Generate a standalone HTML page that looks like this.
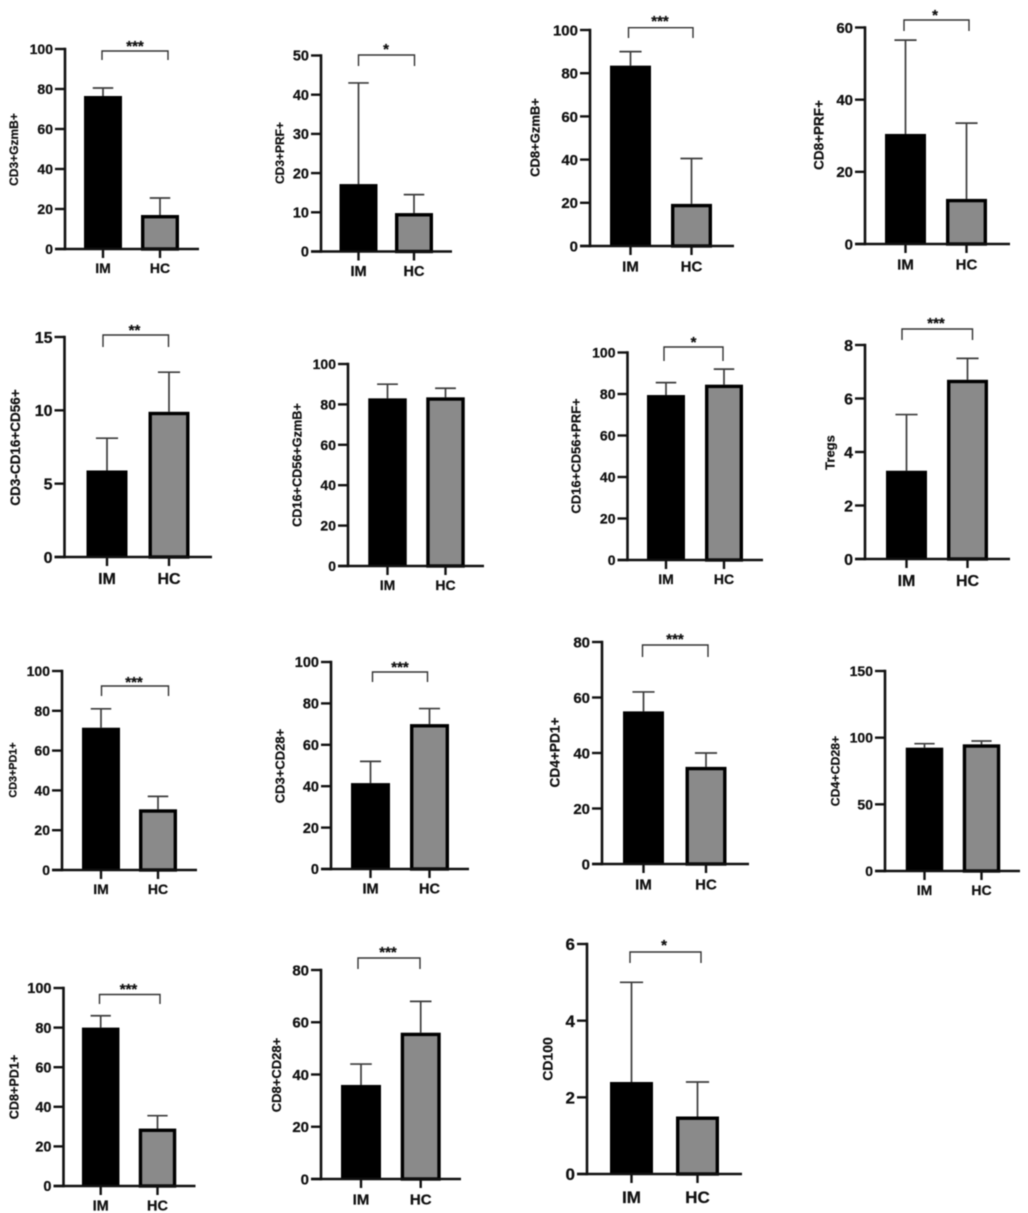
<!DOCTYPE html>
<html lang="en">
<head>
<meta charset="utf-8">
<title>Immune cell subset bar charts: IM vs HC</title>
<style>
html,body{margin:0;padding:0;background:#fff;width:1028px;height:1213px;overflow:hidden}
svg{display:block;filter:blur(0.4px)}
text{font-family:"Liberation Sans",Arial,sans-serif;font-weight:bold;fill:#111;stroke:#111;stroke-width:0.25px}
</style>
</head>
<body>
<svg id="figure" xmlns="http://www.w3.org/2000/svg" width="1028" height="1213" viewBox="0 0 1028 1213"></svg>
<script>
// ---- Data ----
const categories = ["IM", "HC"];
const yTitles = ["CD3+GzmB+","CD3+PRF+","CD8+GzmB+","CD8+PRF+","CD3-CD16+CD56+","CD16+CD56+GzmB+","CD16+CD56+PRF+","Tregs","CD3+PD1+","CD3+CD28+","CD4+PD1+","CD4+CD28+","CD8+PD1+","CD8+CD28+","CD100"];
const imMeans = [76.5,17.2,83.5,30.5,5.9,83,79.5,3.3,71.5,41.5,55,92.5,80,36,2.4];
const hcMeans = [17,9.8,19.5,12.5,9.9,83.5,84.5,6.7,30.5,70,35,95,29,56,1.5];
const imErrorTops = [80.5,43,90,56.5,8.1,90,85.5,5.4,81,52,62,95.5,86,44,5];
const hcErrorTops = [25.5,14.5,40.5,33.5,12.6,88,92,7.5,37,77.5,40,97.5,35.5,68,2.4];
const significance = ["***","*","***","*","**","","*","***","***","***","***","","***","***","*"];
const tickLabels = [
  [0,20,40,60,80,100],[0,10,20,30,40,50],[0,20,40,60,80,100],[0,20,40,60],
  [0,5,10,15],[0,20,40,60,80,100],[0,20,40,60,80,100],[0,2,4,6,8],
  [0,20,40,60,80,100],[0,20,40,60,80,100],[0,20,40,60,80],[0,50,100,150],
  [0,20,40,60,80,100],[0,20,40,60,80],[0,2,4,6]
];

// ---- Panel layout (pixels) ----
const layout = [
 {ax:65,   base:249,  top:49,   right:199, c:[103,160],     bw:38,  br:[102,168,51,60],        star:[135,43],    yt:[15,149.5,12],   fs:14},
 {ax:321,  base:251.5,top:55.5, right:452, c:[358.5,414],   bw:38,  br:[358.5,414.5,55,66],    star:[386,46],    yt:[281,153,12],    fs:14.5},
 {ax:590,  base:246,  top:30,   right:734, c:[630.5,691.5], bw:41,  br:[628.5,693,27.7,38],    star:[660,18],    yt:[536,137.5,13],  fs:15},
 {ax:865,  base:244,  top:27.5, right:1010,c:[905.5,966.5], bw:41,  br:[904,969,20,31],        star:[935,12],    yt:[820,135,13.5],  fs:15},
 {ax:64.5, base:557,  top:337,  right:212, c:[107,169],     bw:41,  br:[103,168.5,335,347],    star:[134.5,327], yt:[16.5,447.5,13.5],fs:16},
 {ax:348,  base:566,  top:364,  right:484, c:[387.5,445.5], bw:38.5,br:null,                   star:null,        yt:[298,465,12.7],  fs:14},
 {ax:627.5,base:560,  top:352.5,right:763, c:[666,724],     bw:38,  br:[664,723,347,361],      star:[693.5,339], yt:[577,456,13],    fs:14},
 {ax:865,  base:559,  top:345,  right:1010,c:[906.5,967.5], bw:41,  br:[902,972.5,329,340],    star:[936,320],   yt:[831,452.5,13],  fs:16},
 {ax:62,   base:870,  top:671,  right:197, c:[101,158],     bw:38,  br:[101.5,168.5,686,696],  star:[134,679],   yt:[13.5,770,10.8], fs:14},
 {ax:331,  base:869,  top:662,  right:469, c:[370.5,429.5], bw:39,  br:[372.5,427.5,672,682],  star:[400,664],   yt:[281,766,13],    fs:14.5},
 {ax:602,  base:864,  top:642,  right:749, c:[643.5,706],   bw:41,  br:[642.5,708,645,657],    star:[675,636],   yt:[556,752.5,13.7],fs:15},
 {ax:885,  base:871,  top:671,  right:1020,c:[924.5,981.5], bw:37.5,br:null,                   star:null,        yt:[836,771,12.3],  fs:14},
 {ax:63.5, base:1186, top:988,  right:195.5,c:[100.7,157.5],bw:37.5,br:[99.5,160,994.5,1004],  star:[128.5,986], yt:[15,1087,12.6],  fs:14.5},
 {ax:321,  base:1179, top:970,  right:461, c:[361,420.7],   bw:40,  br:[358,420,958,969],      star:[388,949],   yt:[277.6,1075,13], fs:15},
 {ax:587,  base:1174, top:944,  right:742, c:[631.5,697.5], bw:43,  br:[630,701,952,963],      star:[664,942],   yt:[549,1059,14],   fs:17}
];

const NS = "http://www.w3.org/2000/svg";
const svg = document.getElementById("figure");
function make(parent, tag, props) {
  const node = document.createElementNS(NS, tag);
  for (const k in props) node.setAttribute(k, props[k]);
  parent.appendChild(node);
  return node;
}
function slug(s) { return s.toLowerCase().replace(/\+/g, "-pos-").replace(/[^a-z0-9]+/g, "-").replace(/-+$/, ""); }

yTitles.forEach(function (title, i) {
  const L = layout[i];
  const ticks = tickLabels[i];
  const yMax = ticks[ticks.length - 1];
  const yScale = function (v) { return L.base - (v / yMax) * (L.base - L.top); };

  const g = make(svg, "g", {});
  
  

  // bars and error bars
  const means = [imMeans[i], hcMeans[i]];
  const errs = [imErrorTops[i], hcErrorTops[i]];
  categories.forEach(function (cat, j) {
    const cx = L.c[j];
    const err = make(g, "g", {stroke: "#3c3c3c", "stroke-width": 1.7, fill: "none"});
    
    
    make(err, "line", {x1: cx, x2: cx, y1: yScale(means[j]), y2: yScale(errs[j])});
    make(err, "line", {x1: cx - L.bw * 0.27, x2: cx + L.bw * 0.27, y1: yScale(errs[j]), y2: yScale(errs[j])});

    const y = yScale(means[j]);
    const bar = make(g, "rect", j === 0
      ? {x: cx - L.bw / 2, y: y, width: L.bw, height: L.base - y, fill: "#000"}
      : {x: cx - L.bw / 2 + 1.7, y: y + 1.7, width: L.bw - 3.4, height: L.base - y - 1.7, fill: "#8a8a8a", stroke: "#000", "stroke-width": 3.4});
    
    

    const tick = make(g, "line", {x1: cx, x2: cx, y1: L.base, y2: L.base + 9, stroke: "#111", "stroke-width": 2.4});
    
    

    const lbl = make(g, "text", {x: cx, y: L.base + L.fs * 1.7, "text-anchor": "middle", "font-size": L.fs});
    lbl.textContent = cat;
    
    
  });

  // axes
  const yAxis = make(g, "line", {x1: L.ax, x2: L.ax, y1: L.top - 1.2, y2: L.base + 1.2, stroke: "#111", "stroke-width": 2.6});
  
  
  const xAxis = make(g, "line", {x1: L.ax - 10, x2: L.right, y1: L.base, y2: L.base, stroke: "#111", "stroke-width": 2.4});
  
  

  ticks.forEach(function (t) {
    const y = yScale(t);
    const tk = make(g, "line", {x1: L.ax - 10, x2: L.ax, y1: y, y2: y, stroke: "#111", "stroke-width": 2.4});
    
    
    const tl = make(g, "text", {x: L.ax - 12, y: y + L.fs * 0.36, "text-anchor": "end", "font-size": L.fs});
    tl.textContent = t;
    
    
  });

  // y axis title
  const yt = make(g, "text", {x: L.yt[0], y: L.yt[1], "text-anchor": "middle", "font-size": L.yt[2], transform: "rotate(-90 " + L.yt[0] + " " + L.yt[1] + ")", "dominant-baseline": "middle"});
  yt.textContent = title;
  
  

  // significance bracket
  if (L.br) {
    const b = L.br;
    const path = make(g, "path", {d: "M" + b[0] + " " + b[3] + "V" + b[2] + "H" + b[1] + "V" + b[3], fill: "none", stroke: "#333", "stroke-width": 1.4});
    
    
    const s = make(g, "text", {x: L.star[0], y: L.star[1] + 8, "text-anchor": "middle", "font-size": 15});
    s.textContent = significance[i];
    
    
  }
});
</script>
</body>
</html>
